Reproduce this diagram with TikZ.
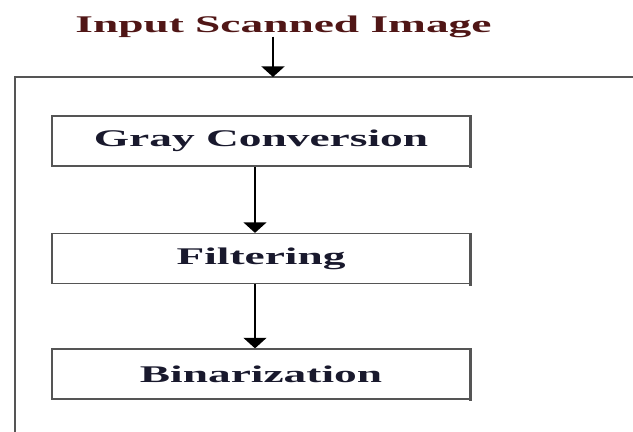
\documentclass[tikz,border=0pt]{standalone}
\usepackage{fontspec}
\newfontfamily\widefont[FakeStretch=1.9]{Liberation Serif}
\usetikzlibrary{arrows.meta}
\definecolor{FrameGray}{RGB}{85,85,85}
\definecolor{TitleRed}{RGB}{80,22,22}
\definecolor{LabelInk}{RGB}{25,25,45}
\tikzset{>={Triangle[length=6pt,width=13pt]}}
\tikzstyle{none}=[inner sep=0pt]
\tikzstyle{stage}=[draw=FrameGray,line width=0.7pt,fill=white,minimum width=8.36cm,minimum height=1cm,inner sep=0pt,font=\widefont\bfseries\fontsize{13.6}{16}\selectfont,text=LabelInk]
\tikzstyle{simple}=[-,draw=FrameGray,line width=1.2pt]
\tikzstyle{arrow}=[->,draw=black,line width=1.1pt]
\pgfdeclarelayer{edgelayer}
\pgfdeclarelayer{nodelayer}
\pgfsetlayers{edgelayer,nodelayer,main}

\begin{document}
\begin{tikzpicture}[x=0.02cm,y=-0.02cm]
	\useasboundingbox (0,0) rectangle (633,432);
	\begin{pgfonlayer}{nodelayer}
		\node [style=none, anchor=base, text=TitleRed, font=\widefont\bfseries\fontsize{13.6}{16}\selectfont] (title) at (283.5, 33) {Input Scanned Image};
		\node [style=stage] (gray) at (261, 141) {Gray Conversion};
		\node [style=stage] (filter) at (261, 258.5) {Filtering};
		\node [style=stage] (binar) at (261, 374) {Binarization};
		\coordinate (in) at (273, 77);
		\coordinate (lane) at (255, 0);
	\end{pgfonlayer}
	\begin{pgfonlayer}{edgelayer}
		% outer frame, cut off at the right and bottom
		\draw [style=simple] (15, 432) |- (in) -- (633, 77);
		\draw [style=arrow] ([yshift=-2pt]title.base -| in) to (in);
		\draw [style=arrow] (gray.south -| lane) to (filter.north -| lane);
		\draw [style=arrow] (filter.south -| lane) to (binar.north -| lane);
	\end{pgfonlayer}

	% heavier right edge on each box
	\foreach \s in {gray, filter, binar}
		\draw [style=simple, line width=1.6pt] (\s.north east) -- ([yshift=-1pt]\s.south east);
\end{tikzpicture}
\end{document}
